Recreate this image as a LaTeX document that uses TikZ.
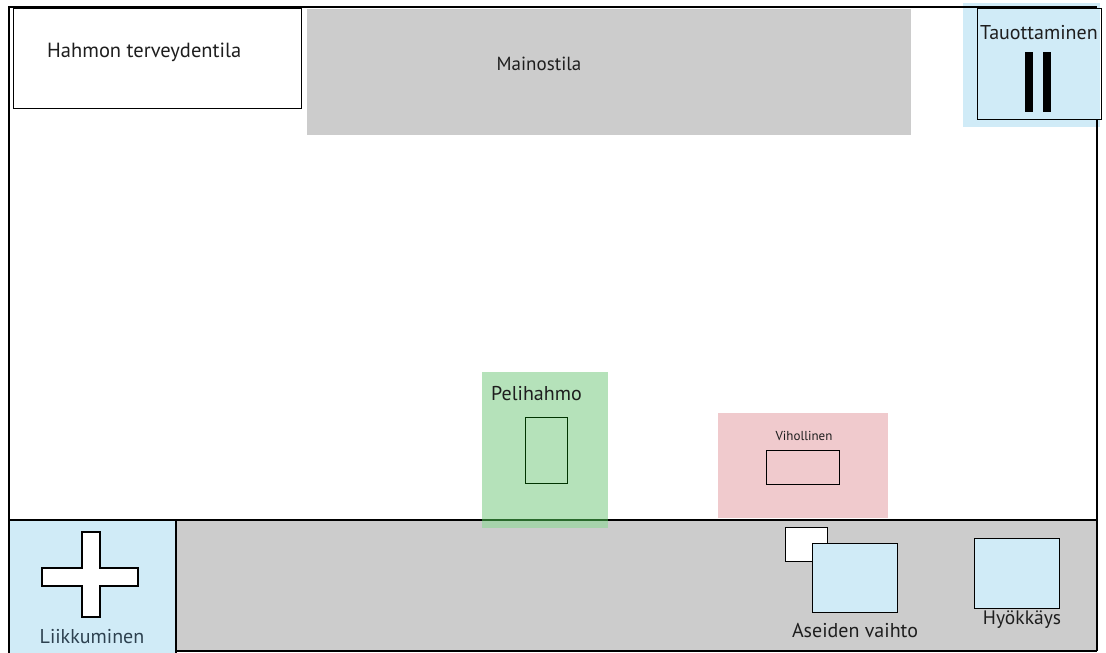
\documentclass[tikz,border=0pt]{standalone}
\usepackage{fontspec}
\setmainfont{PT Sans}
\definecolor{adgray}{RGB}{204,204,204}
\definecolor{ltblue}{RGB}{208,235,247}
\definecolor{plgreen}{RGB}{150,214,158}
\definecolor{enpink}{RGB}{240,202,205}
\definecolor{txt}{RGB}{30,30,30}
\tikzset{
  lbl/.style={inner sep=0pt, text=txt, font=\fontsize{20}{22}\selectfont},
  smalllbl/.style={inner sep=0pt, text=txt, font=\fontsize{13}{15}\selectfont},
  outl/.style={draw=black, line width=1.2pt},
}
\begin{document}
\begin{tikzpicture}[x=1pt,y=-1pt]
\useasboundingbox (0,0) rectangle (1106,653);
\fill[white] (0,0) rectangle (1106,653);
% top advertising area
\fill[adgray] (307,9) rectangle (911,135);
\node[lbl, font=\fontsize{19}{22}\selectfont] (ad) at (539,64) {Mainostila};
% health box
\node[outl, minimum width=288pt, minimum height=100pt, inner sep=0pt, anchor=north west] (health) at (13,8) {};
\node[lbl, anchor=west, font=\fontsize{20.5}{22}\selectfont] (healthlbl) at (47,52) {Hahmon terveydentila};
% pause
\fill[ltblue] (963,3) rectangle (1100,127);
\node[draw=black, line width=1pt, minimum width=124pt, minimum height=111pt, inner sep=0pt, anchor=north west] (pause) at (977,8) {};
\node[lbl] (pauselbl) at (1039,33) {Tauottaminen};
\fill[black] (1025,52) rectangle (1033,112);
\fill[black] (1043,52) rectangle (1051,112);
% bottom bar
\fill[adgray] (176,520) rectangle (1097,651);
\fill[ltblue] (10,520) rectangle (176,653);
% outer frame
\draw[line width=2pt] (9,7) -- (1097,7);
\draw[line width=1.2pt] (9,6) -- (9,653);
\draw[line width=1.2pt] (1097,119) -- (1097,651);
\draw[line width=1.2pt] (176,651) -- (1097,651);
\draw[line width=1.4pt] (9,520) -- (1097,520);
\draw[line width=1.2pt] (176,520) -- (176,653);
% movement cross
\draw[line width=1.2pt, fill=white] (82,532) -- (100,532) -- (100,568) -- (138,568) -- (138,586) -- (100,586) -- (100,617) -- (82,617) -- (82,586) -- (42,586) -- (42,568) -- (82,568) -- cycle;
\node[lbl, text={rgb,255:red,45;green,65;blue,80}] (movelbl) at (92,637) {Liikkuminen};
% enemy
\fill[enpink] (718,413) rectangle (888,518);
\node[smalllbl] (enemylbl) at (804,436) {Vihollinen};
\node[draw=black, line width=1.2pt, minimum width=73pt, minimum height=34pt, inner sep=0pt, anchor=north west] (enemy) at (766,450) {};
% player
\fill[plgreen, opacity=0.7] (482,372) rectangle (608,528);
\draw[line width=1.4pt, black!70!green, opacity=0.6] (482,520) -- (608,520);
\node[lbl, anchor=west] (playerlbl) at (491,394) {Pelihahmo};
\node[draw=black!80!green, line width=1.2pt, minimum width=42pt, minimum height=66pt, inner sep=0pt, anchor=north west] (player) at (525,417) {};
% weapon switch
\node[draw=black, line width=1.2pt, fill=white, minimum width=42pt, minimum height=34pt, inner sep=0pt, anchor=north west] (weapon2) at (785,527) {};
\node[draw=black, line width=1.2pt, fill=ltblue, minimum width=85pt, minimum height=69pt, inner sep=0pt, anchor=north west] (weapon) at (812,543) {};
\node[lbl] (weaponlbl) at (855,631) {Aseiden vaihto};
% attack
\node[draw=black, line width=1.2pt, fill=ltblue, minimum width=85pt, minimum height=70pt, inner sep=0pt, anchor=north west] (attack) at (974,538) {};
\node[lbl, font=\fontsize{19.5}{22}\selectfont] (attacklbl) at (1022,620) {Hyökkäys};
\end{tikzpicture}
\end{document}
